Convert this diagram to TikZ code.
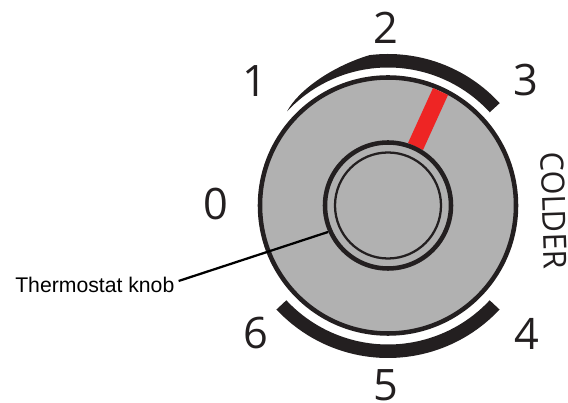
\documentclass[tikz,border=0pt]{standalone}
\usepackage{fontspec}
\usetikzlibrary{calc}
\setmainfont{Open Sans}
\newfontfamily\labelfont{Liberation Sans}
\definecolor{ink}{HTML}{231F20}
\definecolor{knobgray}{HTML}{B1B1B1}
\definecolor{barred}{HTML}{EE2524}
\tikzset{
  dial/.style={circle,draw=ink,inner sep=0pt,outer sep=0pt},
  num/.style={inner sep=0pt,text=ink,font=\fontsize{32.5pt}{33pt}\selectfont},
  band/.style={fill=ink,draw=none}
}
\begin{document}
\begin{tikzpicture}[x=0.75pt,y=0.75pt]
\useasboundingbox (0,0) rectangle (568,403);
\coordinate (c) at (388,197.5);
% bands
\fill[band] ($(c)+(42.5:138)$) arc[start angle=42.5,end angle=137,radius=138]
  .. controls ($(c)+(128:146)$) and ($(c)+(112:150)$) .. ($(c)+(97:151.5)$)
  arc[start angle=97,end angle=42.5,radius=151.5] -- cycle;
\fill[band] ($(c)+(-137:139)$) arc[start angle=-137,end angle=-43,radius=139]
  -- ($(c)+(-43:152.5)$) arc[start angle=-43,end angle=-137,radius=152.5] -- cycle;
% knob
\node[dial,fill=knobgray,line width=3.4pt,minimum size=192pt] (outer) at (c) {};
\fill[barred] (433,315) -- (448,308) -- (423,253) -- (408,260) -- cycle;
\node[dial,line width=3.4pt,fill=knobgray,minimum size=94.5pt] (inner) at (c) {};
\node[dial,line width=1.7pt,minimum size=79.5pt] (core) at (c) {};
% numbers
\node[num] (n0) at (216,199) {0};
\node[num] (n1) at (255,322) {1};
\node[num] (n2) at (386,375) {2};
\node[num] (n3) at (526,323) {3};
\node[num] (n4) at (527,69) {4};
\node[num] (n5) at (386,18) {5};
\node[num] (n6) at (256,70) {6};
\node[inner sep=0pt,text=ink,rotate=-88,xscale=0.96,font=\fontsize{24pt}{24pt}\selectfont] (colder) at (554,192.5) {COLDER};
% label
\node[inner sep=0pt,anchor=west,font=\labelfont\fontsize{15.9pt}{16pt}\selectfont] (lab) at (15,118) {Thermostat knob};
\coordinate (tip) at (328,171);
\draw[black,line width=1.7pt] ($(lab.east)+(4,4)$) -- (tip);
\end{tikzpicture}
\end{document}
